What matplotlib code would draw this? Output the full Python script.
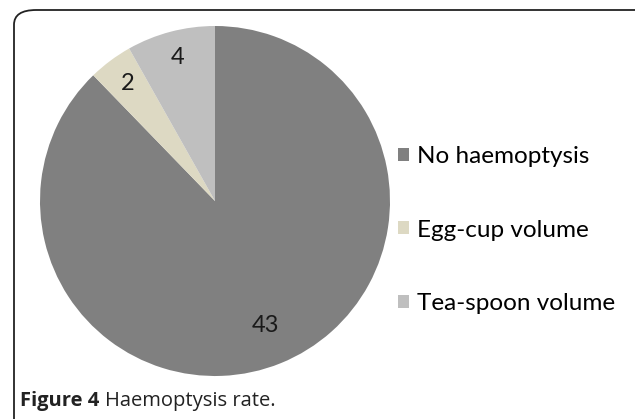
import matplotlib
matplotlib.use('Agg')
import numpy as np
import matplotlib.pyplot as plt
from matplotlib.patches import FancyBboxPatch, Patch

categories = ['No haemoptysis', 'Egg-cup volume', 'Tea-spoon volume']
counts = [43, 2, 4]
colors = ['#808080', '#DDD9C3', '#BFBFBF']
caption_bold = 'Figure 4'
caption_rest = 'Haemoptysis rate.'

W, H = 635, 419
fig = plt.figure(figsize=(W / 100, H / 100), dpi=100)

# rounded frame, clipped on the right and bottom like the source
frame = FancyBboxPatch((14 / W, -0.2), 1.2, (H - 10) / H + 0.2,
                       boxstyle='round,pad=0,rounding_size=0.035',
                       transform=fig.transFigure, fill=False,
                       edgecolor='#222222', linewidth=1.3)
fig.patches.append(frame)

# pie axes: centre (215, 201) px, radius 175 px
r = 175
ax = fig.add_axes([(215 - r) / W, (H - 201 - r) / H, 2 * r / W, 2 * r / H])
wedges, _ = ax.pie(counts, colors=colors, startangle=90, counterclock=False,
                   radius=1.0, wedgeprops=dict(linewidth=0))
ax.set_xlim(-1, 1)
ax.set_ylim(-1, 1)
ax.set_aspect('equal')
ax.axis('off')

# value labels placed along each wedge's mid angle
label_dist = [0.77, 0.835, 0.85]
for w, n, d in zip(wedges, counts, label_dist):
    ang = np.deg2rad((w.theta1 + w.theta2) / 2)
    ax.text(d * np.cos(ang), d * np.sin(ang), str(n), ha='center', va='center',
            fontsize=17, family='Lato', color='#1a1a1a')

handles = [Patch(facecolor=c, edgecolor='none') for c in colors]
fig.legend(handles, categories, loc='center left',
           bbox_to_anchor=(376 / W, 1 - 230 / H), frameon=False,
           prop=dict(family='Lato', size=17.5), labelspacing=2.15,
           handlelength=0.45, handleheight=0.45, handletextpad=0.35)

t1 = fig.text(20 / W, 1 - 401 / H, caption_bold, fontsize=14.5, family='Open Sans',
              fontweight='bold', va='center', color='#222222')
fig.canvas.draw()
bb = t1.get_window_extent()
fig.text(bb.x1 / W + 6 / W, 1 - 401 / H, caption_rest, fontsize=14.5, family='Open Sans',
         va='center', color='#222222')

fig.savefig('out.png', dpi=100)
